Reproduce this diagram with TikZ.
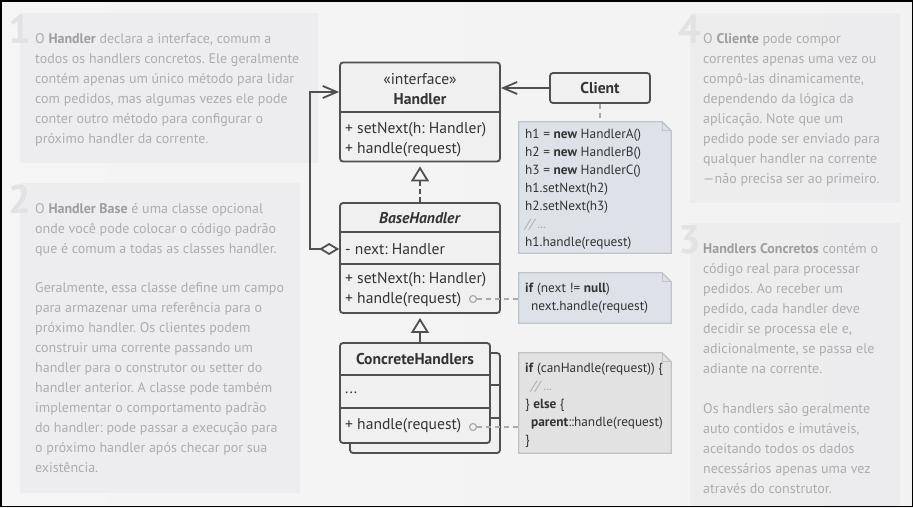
\documentclass[tikz,border=0pt]{standalone}
\usepackage{fontspec}
\setmainfont{PT Sans}
\usetikzlibrary{positioning,arrows.meta}
\frenchspacing

\definecolor{umlline}{HTML}{505050}
\definecolor{umlfill}{HTML}{F0F0F0}
\definecolor{umltext}{HTML}{333333}
\definecolor{paneltext}{HTML}{ADADAD}
\definecolor{panelbold}{HTML}{9E9E9E}
\definecolor{panelnum}{HTML}{E2E2E4}
\definecolor{panelfill}{HTML}{E9E9EC}
\definecolor{notefillA}{HTML}{DCE2E7}
\definecolor{notelineA}{HTML}{BEC5CB}
\definecolor{notefillB}{HTML}{E2E2E3}
\definecolor{notelineB}{HTML}{C3C3C5}
\definecolor{linkgray}{HTML}{AAAAAA}

\newcommand\panelfont{\fontsize{14}{20}\selectfont}
\newcommand\umlfont{\fontsize{15.6}{20}\selectfont}
\newcommand\notefont{\fontsize{13.3}{18}\selectfont}

\newcommand\notebg[3]{%
  \filldraw[fill=#2,draw=#3,line width=1.3pt] (#1.north west) -- ([xshift=-9]#1.north east)
    -- ([yshift=-9]#1.north east) -- (#1.south east) -- (#1.south west) -- cycle;
  \draw[#3,line width=1.1pt] ([xshift=-9]#1.north east) -- ([xshift=-9,yshift=-9]#1.north east) -- ([yshift=-9]#1.north east);
}

\tikzset{
  umlbox/.style={draw=umlline,fill=umlfill,line width=1.8pt,rounded corners=3pt,inner sep=0,text=umltext,font=\umlfont},
  umltxt/.style={inner sep=0,text=umltext,font=\umlfont},
  divider/.style={umlline,line width=1.8pt},
  notebox/.style={inner sep=0},
  notetxt/.style={inner sep=0,anchor=north west,align=left,text=umltext,font=\notefont},
  para/.style={inner sep=0,anchor=north west,align=left,text=paneltext,font=\panelfont},
  num/.style={inner sep=0,anchor=base east,text=panelnum,font=\fontsize{40}{40}\selectfont\bfseries},
  dot/.style={circle,draw=linkgray,fill=umlfill,line width=1.2pt,minimum size=7,inner sep=0},
  link/.style={linkgray,line width=1.5pt,dash pattern=on 5pt off 4pt},
  inherit/.style={umlline,line width=1.8pt,-{Triangle[open,length=15pt,width=18pt]},shorten >=4pt},
  assoc/.style={umlline,line width=1.8pt,-{Straight Barb[length=14pt,width=12pt]}},
  aggr/.style={umlline,line width=1.8pt,{Diamond[open,length=20pt,width=12pt]}-{Straight Barb[length=14pt,width=12pt]}}
}

\begin{document}
\begin{tikzpicture}[x=1pt,y=-1pt]
\useasboundingbox (0,0) rectangle (913,507);
\shade[left color=black!4,right color=blue!3!black!5] (0,0) rectangle (913,507);

\fill[panelfill,opacity=.6] (20,13) rectangle (318,163);
\fill[panelfill,opacity=.6] (20,183) rectangle (300,493);
\fill[panelfill,opacity=.6] (690,13) rectangle (900,203);
\fill[panelfill,opacity=.6] (690,223) rectangle (900,507);

\node[num] (num1) at (31,43) {1};
\node[num] (num2) at (31,213) {2};
\node[num] (num4) at (701,43) {4};
\node[num] (num3) at (701,253) {3};

\node[para] (txt1) at (35,33) {O \textbf{\color{panelbold}Handler} declara a interface, comum a\\
todos os handlers concretos. Ele geralmente\\
contém apenas um único método para lidar\\
com pedidos, mas algumas vezes ele pode\\
conter outro método para configurar o\\
próximo handler da corrente.};
\node[para] (txt2a) at (35,203) {O \textbf{\color{panelbold}Handler Base} é uma classe opcional\\
onde você pode colocar o código padrão\\
que é comum a todas as classes handler.};
\node[para] (txt2b) at (35,282) {Geralmente, essa classe define um campo\\
para armazenar uma referência para o\\
próximo handler. Os clientes podem\\
construir uma corrente passando um\\
handler para o construtor ou setter do\\
handler anterior. A classe pode também\\
implementar o comportamento padrão\\
do handler: pode passar a execução para\\
o próximo handler após checar por sua\\
existência.};
\node[para] (txt4) at (703,33) {O \textbf{\color{panelbold}Cliente} pode compor\\
correntes apenas uma vez ou\\
compô-las dinamicamente,\\
dependendo da lógica da\\
aplicação. Note que um\\
pedido pode ser enviado para\\
qualquer handler na corrente\\
—não precisa ser ao primeiro.};
\node[para] (txt3a) at (703,243) {\textbf{\color{panelbold}Handlers Concretos} contém o\\
código real para processar\\
pedidos. Ao receber um\\
pedido, cada handler deve\\
decidir se processa ele e,\\
adicionalmente, se passa ele\\
adiante na corrente.};
\node[para] (txt3b) at (703,403) {Os handlers são geralmente\\
auto contidos e imutáveis,\\
aceitando todos os dados\\
necessários apenas uma vez\\
através do construtor.};

\node[umlbox,minimum width=160,minimum height=99] (handler) at (420,112) {};
\draw[divider] ([yshift=-50]handler.north west) -- ([yshift=-50]handler.north east);
\node[umltxt,align=center] (hname) at (420,89) {«interface»\\\textbf{Handler}};
\node[umltxt,align=left,anchor=west] (hmeth) at (345,140) {+ setNext(h: Handler)\\+ handle(request)};

\node[umlbox,minimum width=100,minimum height=30] (client) at (600,88) {\textbf{Client}};

\node[umlbox,minimum width=160,minimum height=110] (base) at (420,258) {};
\draw[divider] ([yshift=-30]base.north west) -- ([yshift=-30]base.north east);
\draw[divider] ([yshift=-62]base.north west) -- ([yshift=-62]base.north east);
\node[umltxt] (bname) at (420,218) {\textbf{\textit{BaseHandler}}};
\node[umltxt,anchor=west] (bnext) at (345,249) {- next: Handler};
\node[umltxt,align=left,anchor=west] (bmeth) at (345,290) {+ setNext(h: Handler)\\+ handle(request)};

\node[umlbox,minimum width=150,minimum height=100] (chback) at (425,403) {};
\draw[divider] ([yshift=-33]chback.north west) -- ([yshift=-33]chback.north east);
\draw[divider] ([yshift=-66]chback.north west) -- ([yshift=-66]chback.north east);
\node[umlbox,minimum width=150,minimum height=100] (ch) at (415,393) {};
\draw[divider] ([yshift=-33]ch.north west) -- ([yshift=-33]ch.north east);
\draw[divider] ([yshift=-66]ch.north west) -- ([yshift=-66]ch.north east);
\node[umltxt] (chname) at (415,359) {\textbf{ConcreteHandlers}};
\node[umltxt,anchor=west] (chfield) at (345,393) {...};
\node[umltxt,anchor=west] (chmeth) at (345,426) {+ handle(request)};

\node[notebox,minimum width=152,minimum height=131] (note1) at (595,187.5) {};
\notebg{note1}{notefillA}{notelineA}
\node[notetxt] (code1) at (525,129) {h1 = \textbf{new} HandlerA()\\
h2 = \textbf{new} HandlerB()\\
h3 = \textbf{new} HandlerC()\\
h1.setNext(h2)\\
h2.setNext(h3)\\
{\color{linkgray}\itshape // ...}\\
h1.handle(request)};

\node[notebox,minimum width=152,minimum height=50] (note2) at (595,298) {};
\notebg{note2}{notefillA}{notelineA}
\node[notetxt] (code2) at (525,283) {\textbf{if} (next != \textbf{null})\\
\hspace{6pt}next.handle(request)};

\node[notebox,minimum width=152,minimum height=100] (note3) at (595,403) {};
\notebg{note3}{notefillB}{notelineB}
\node[notetxt] (code3) at (525,363) {\textbf{if} (canHandle(request)) \{\\
\hspace{6pt}{\color{linkgray}\itshape // ...}\\
\} \textbf{else} \{\\
\hspace{6pt}\textbf{parent}::handle(request)\\
\}};

\draw[assoc] (client.west) -- (client.west -| handler.east);
\draw[link] (client.south) -- (client.south |- note1.north);
\draw[inherit,dash pattern=on 5pt off 3pt] (base.north) -- (handler.south);
\draw[inherit] (base.south |- ch.north) -- (base.south);
\draw[aggr] (base.west |- bnext) -- ++(-29,0) |- ([yshift=20]handler.west);

\node[dot] (dot1) at (473,299) {};
\draw[link] (dot1) -- (dot1 -| note2.west);
\node[dot] (dot2) at (473,427) {};
\draw[link] (dot2) -- (dot2 -| note3.west);

\draw[black,line width=1.5pt] (0.75,0.75) rectangle (912.25,506.25);
\end{tikzpicture}
\end{document}
